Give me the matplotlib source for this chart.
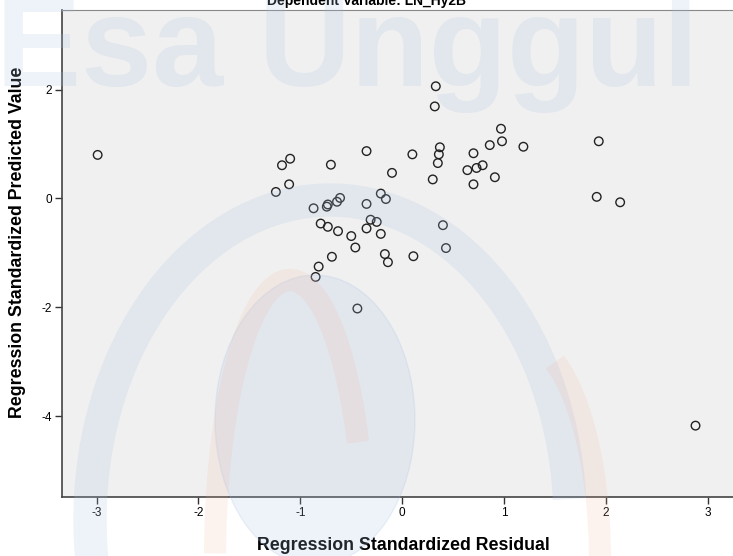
import matplotlib
matplotlib.use("Agg")
import matplotlib.pyplot as plt
from matplotlib.patches import Ellipse, Arc
from matplotlib.transforms import IdentityTransform

# Data: standardized residual (x) vs standardized predicted value (y)
residual = [-2.99, -1.10, -1.18, -0.70, -0.35, -0.10, -1.11, -1.24, -0.61, -0.64,
            -0.73, -0.74, -0.87, -0.35, -0.21, -0.16, -0.80, -0.73, -0.63, -0.31,
            -0.25, -0.35, -0.21, -0.50, -0.46, -0.17, -0.14, -0.69, -0.82, -0.85,
            -0.44, 0.33, 0.32, 0.97, 0.98, 0.86, 1.19, 1.93, 0.10, 0.37,
            0.36, 0.35, 0.30, 0.70, 0.79, 0.73, 0.64, 0.91, 0.70, 1.91,
            2.14, 0.40, 0.43, 0.11, 2.88]
predicted = [0.80, 0.73, 0.61, 0.62, 0.87, 0.47, 0.26, 0.12, 0.01, -0.06,
             -0.11, -0.15, -0.18, -0.10, 0.09, -0.01, -0.46, -0.52, -0.60, -0.39,
             -0.43, -0.55, -0.65, -0.69, -0.90, -1.02, -1.17, -1.07, -1.25, -1.44,
             -2.02, 2.06, 1.69, 1.28, 1.05, 0.98, 0.95, 1.05, 0.81, 0.94,
             0.81, 0.65, 0.35, 0.83, 0.61, 0.56, 0.52, 0.39, 0.26, 0.03,
             -0.07, -0.49, -0.91, -1.06, -4.17]
x_ticks = [-3, -2, -1, 0, 1, 2, 3]
y_ticks = [-4, -2, 0, 2]

plt.rcParams['font.family'] = ['Liberation Sans', 'DejaVu Sans']

W, H = 733, 556
TOP, BOT, LEFT = 10, 497, 62
fig = plt.figure(figsize=(W / 100, H / 100), dpi=100)
ax = fig.add_axes([LEFT / W, 1 - BOT / H, (W - LEFT) / W + 0.01, (BOT - TOP) / H])
ax.set_facecolor('#f0f0f0')

ax.scatter(residual, predicted, s=38, facecolors='none', edgecolors='#222222',
           linewidths=1.0, zorder=3)

ax.set_xlim(-3.34, 3.32)
ax.set_ylim(-5.48, 3.46)
ax.set_xticks(x_ticks)
ax.set_xticklabels([str(t) for t in x_ticks])
ax.set_yticks(y_ticks)
ax.set_yticklabels([str(t) for t in y_ticks])
ax.tick_params(direction='out', length=5, width=1, colors='#333333', labelsize=8.5,
               labelcolor='black', pad=2)
for s in ['left', 'bottom']:
    ax.spines[s].set_color('#444444')
    ax.spines[s].set_linewidth(1.2)
ax.spines['top'].set_color('#888888')
ax.spines['right'].set_visible(False)

fig.text(403 / W, 11 / H, 'Regression Standardized Residual', fontsize=12.8,
         fontweight='bold', ha='center', va='center')
fig.text(18 / W, 1 - 242 / H, 'Regression Standardized Predicted Value', fontsize=12.8,
         fontweight='bold', ha='center', va='center', rotation=90)

fig.text(0.5, 1 - 1 / H, 'Dependent Variable: LN_Hy2B', ha='center', va='center',
         fontsize=10, fontweight='bold')

# Watermark (display pixel coordinates, origin bottom-left)
ident = IdentityTransform()
blue = '#aac0e4'
orange = '#f0b49a'
fig.text(-0.005, 1 - 86 / H, 'Esa Unggul', fontsize=92, fontweight='bold',
         color=blue, alpha=0.2, ha='left', va='baseline', zorder=10)
arc1 = Arc((330, H - 520), 480, 640, theta1=5, theta2=205, transform=ident,
           lw=24, color=blue, alpha=0.2, zorder=10)
fig.add_artist(arc1)
ell = Ellipse((315, H - 420), 200, 290, transform=ident, color=blue, alpha=0.2, zorder=10)
fig.add_artist(ell)
arc2 = Arc((290, H - 560), 150, 560, theta1=60, theta2=175, transform=ident,
           lw=16, color=orange, alpha=0.15, zorder=10)
fig.add_artist(arc2)
arc3 = Arc((520, H - 560), 160, 440, theta1=0, theta2=80, transform=ident,
           lw=16, color=orange, alpha=0.15, zorder=10)
fig.add_artist(arc3)

fig.savefig('out.png', dpi=100)
